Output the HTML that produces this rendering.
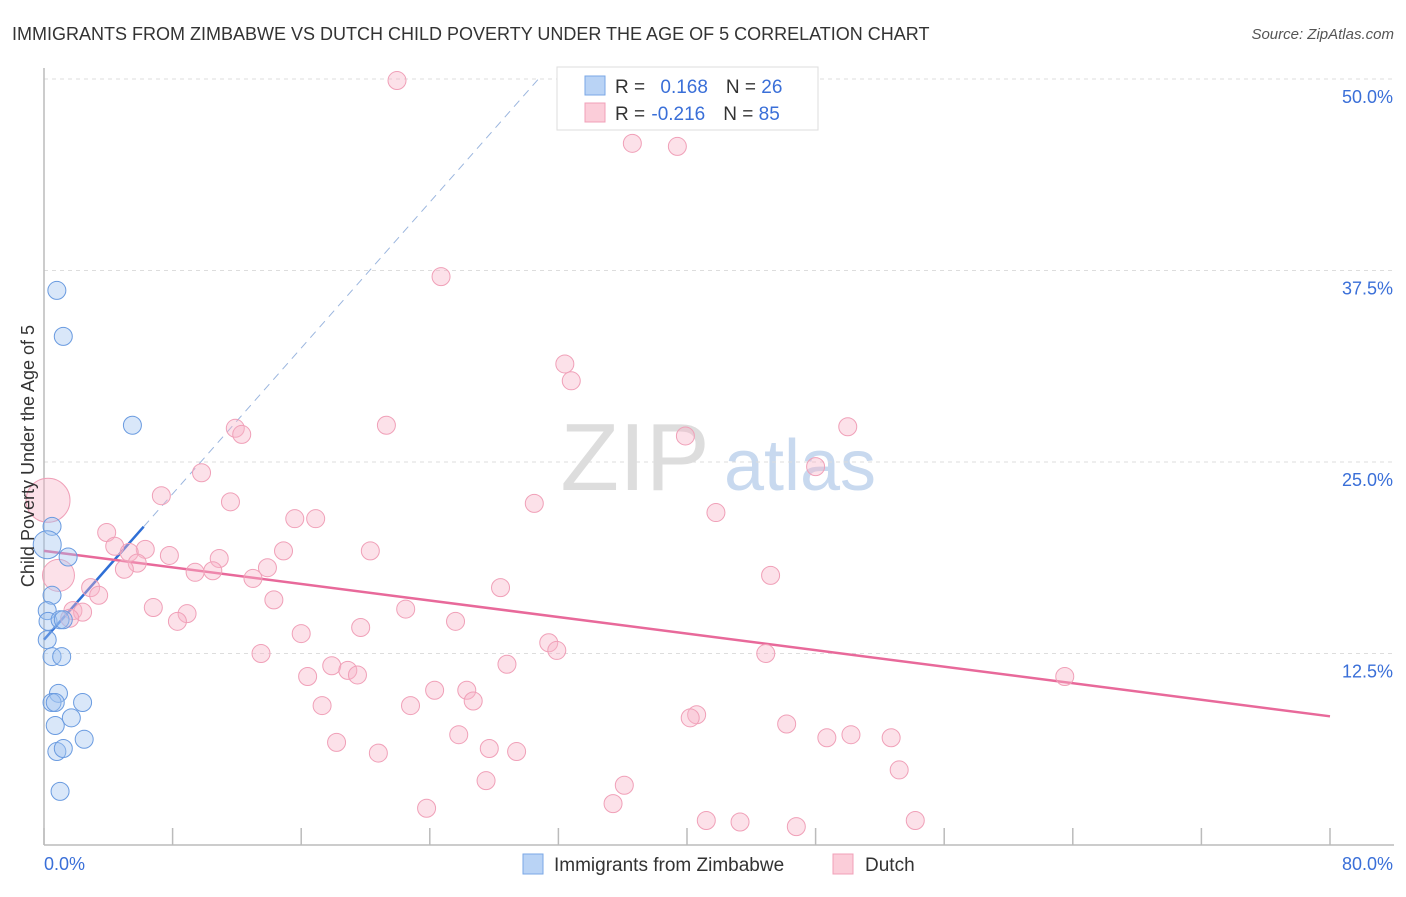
<!DOCTYPE html>
<html><head><meta charset="utf-8"><style>
body{margin:0;background:#fff;font-family:"Liberation Sans",sans-serif;}
svg text{font-family:"Liberation Sans",sans-serif;}
</style></head><body>
<svg id="chart" width="1406" height="892" xmlns="http://www.w3.org/2000/svg">
<text x="12" y="40" font-size="18" fill="#333">IMMIGRANTS FROM ZIMBABWE VS DUTCH CHILD POVERTY UNDER THE AGE OF 5 CORRELATION CHART</text>
<text x="1394" y="39" font-size="15" fill="#555" text-anchor="end" font-style="italic">Source: ZipAtlas.com</text>
<text x="635" y="490" font-size="96" fill="#ddd" font-family="Liberation Serif" text-anchor="middle">ZIP</text>
<text x="800" y="490" font-size="72" fill="#c8d9ef" text-anchor="middle">atlas</text>
<g id="grid"></g><g id="axes"></g><g id="trend"></g><g id="pts"></g>
<text transform="translate(34,456) rotate(-90)" font-size="18" fill="#333" text-anchor="middle">Child Poverty Under the Age of 5</text>
<g>
<rect x="557" y="67" width="261" height="63" fill="#fff" stroke="#ddd"/>
<rect x="585" y="76" width="20" height="19" fill="#b9d3f5" stroke="#7aa7e6"/>
<rect x="585" y="103" width="20" height="19" fill="#fbcdd9" stroke="#f0a0b8"/>
<text x="615" y="93" font-size="19" fill="#333">R = <tspan fill="#3a6fd8" dx="10">0.168</tspan><tspan fill="#333" dx="18">N = </tspan><tspan fill="#3a6fd8">26</tspan></text>
<text x="615" y="120" font-size="19" fill="#333">R = <tspan fill="#3a6fd8" dx="1">-0.216</tspan><tspan fill="#333" dx="18">N = </tspan><tspan fill="#3a6fd8">85</tspan></text>
</g>
<g>
<rect x="523" y="854" width="20" height="20" fill="#b9d3f5" stroke="#7aa7e6"/>
<text x="554" y="871" font-size="19" fill="#333">Immigrants from Zimbabwe</text>
<rect x="833" y="854" width="20" height="20" fill="#fbcdd9" stroke="#f0a0b8"/>
<text x="865" y="871" font-size="19" fill="#333">Dutch</text>
</g>
</svg>
<script>
const yTicks=[12.5,25,37.5,50];
const yTickLabels=["12.5%","25.0%","37.5%","50.0%"];
const xTicks=[0,8,16,24,32,40,48,56,64,72,80];
const blueX=[0.8,1.2,5.5,0.5,0.2,1.5,0.5,0.2,0.25,1.0,1.2,0.2,0.5,1.1,0.9,0.5,0.7,2.4,0.7,1.7,2.5,0.8,1.2,1.0];
const blueY=[36.2,33.2,27.4,20.8,19.6,18.8,16.3,15.3,14.6,14.7,14.7,13.4,12.3,12.3,9.9,9.3,9.3,9.3,7.8,8.3,6.9,6.1,6.3,3.5];
const pinkX=[21.96,36.6,39.4,24.7,32.4,32.8,21.3,11.9,12.3,39.9,50.0,48.0,9.8,7.3,11.6,30.5,41.8,15.6,16.9,3.9,4.4,6.3,7.8,5.3,5.8,20.3,14.9,10.9,5.0,9.4,10.5,13.9,13.0,45.2,28.4,2.9,3.4,14.3,22.5,6.8,8.9,1.8,2.4,1.6,8.3,25.6,19.7,16.0,31.4,31.9,44.9,13.5,28.8,17.9,18.9,19.5,16.4,63.5,24.3,26.3,26.7,17.3,22.8,40.6,40.2,46.2,48.7,50.2,52.7,25.8,18.2,27.7,29.4,20.8,53.2,27.5,36.1,35.4,23.8,41.2,43.3,46.8,54.2];
const pinkY=[49.9,45.8,45.6,37.1,31.4,30.3,27.4,27.2,26.8,26.7,27.3,24.7,24.3,22.8,22.4,22.3,21.7,21.3,21.3,20.4,19.5,19.3,18.9,19.1,18.4,19.2,19.2,18.7,18.0,17.8,17.9,18.1,17.4,17.6,16.8,16.8,16.3,16.0,15.4,15.5,15.1,15.3,15.2,14.8,14.6,14.6,14.2,13.8,13.2,12.7,12.5,12.5,11.8,11.7,11.4,11.1,11.0,11.0,10.1,10.1,9.4,9.1,9.1,8.5,8.3,7.9,7.0,7.2,7.0,7.2,6.7,6.3,6.1,6.0,4.9,4.2,3.9,2.7,2.4,1.6,1.5,1.2,1.6];
const bigPinkX=[0.25,0.9];
const bigPinkY=[22.5,17.6];
const blueTrend=[13.4,1.19];
const pinkTrend=[19.2,-0.135];
const NS="http://www.w3.org/2000/svg";
const sx=v=>44+v*16.075;
const sy=v=>845-v*15.32;
function mk(tag,attrs,parent){const e=document.createElementNS(NS,tag);for(const k in attrs)e.setAttribute(k,attrs[k]);document.getElementById(parent).appendChild(e);return e;}
yTicks.forEach((t,i)=>{
 const l=mk('line',{x1:44,x2:1394,y1:sy(t),y2:sy(t),stroke:'#ddd','stroke-dasharray':'4,4'},'grid');
 
 
 const tx=mk('text',{x:1393,y:sy(t)+24,'font-size':18,fill:'#3a6fd8','text-anchor':'end'},'grid');
 tx.textContent=yTickLabels[i];
 
 
});
const ax=mk('line',{x1:44,x2:44,y1:68,y2:845,stroke:'#bbb','stroke-width':1.5},'axes');


const bx=mk('line',{x1:44,x2:1394,y1:845,y2:845,stroke:'#bbb','stroke-width':1.5},'axes');


xTicks.forEach(t=>{
 const l=mk('line',{x1:sx(t),x2:sx(t),y1:828,y2:845,stroke:'#bbb','stroke-width':1.5},'axes');
 
 
});
const xl0=mk('text',{x:44,y:870,'font-size':18,fill:'#3a6fd8'},'axes');xl0.textContent='0.0%';


const xl1=mk('text',{x:1393,y:870,'font-size':18,fill:'#3a6fd8','text-anchor':'end'},'axes');xl1.textContent='80.0%';


const bxEnd=Math.max(...blueX)+0.7, bxDash=(50-blueTrend[0])/blueTrend[1];
const bt=mk('line',{x1:sx(0),y1:sy(blueTrend[0]),x2:sx(bxEnd),y2:sy(blueTrend[0]+blueTrend[1]*bxEnd),stroke:'#2f6fd6','stroke-width':2.5},'trend');


const bd=mk('line',{x1:sx(bxEnd),y1:sy(blueTrend[0]+blueTrend[1]*bxEnd),x2:sx(bxDash),y2:sy(50),stroke:'#9ab5de','stroke-width':1,'stroke-dasharray':'8,6'},'trend');


const pt=mk('line',{x1:sx(0),y1:sy(pinkTrend[0]),x2:sx(80),y2:sy(pinkTrend[0]+pinkTrend[1]*80),stroke:'#e8699a','stroke-width':2.5},'trend');


pinkX.forEach((x,i)=>{
 const c=mk('circle',{cx:sx(x),cy:sy(pinkY[i]),r:9,fill:'rgba(248,180,200,0.4)',stroke:'#f0a0b8','stroke-width':1},'pts');
 
 
});
bigPinkX.forEach((x,i)=>{
 const c=mk('circle',{cx:sx(x),cy:sy(bigPinkY[i]),r:i?16:22,fill:'rgba(248,180,200,0.4)',stroke:'#f0a0b8','stroke-width':1},'pts');
 
 
});
blueX.forEach((x,i)=>{
 const c=mk('circle',{cx:sx(x),cy:sy(blueY[i]),r:i==4?14:9,fill:'rgba(160,195,240,0.4)',stroke:'#6a9be0','stroke-width':1},'pts');
 
 
});
</script>
</body></html>
